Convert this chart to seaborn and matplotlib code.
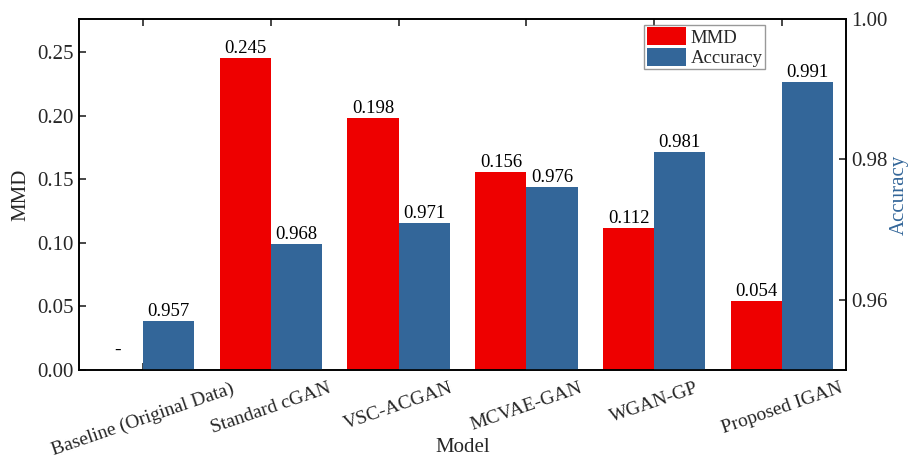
import numpy as np
import pandas as pd
import seaborn as sns
import matplotlib.pyplot as plt
from matplotlib.patches import Patch

models = ["Baseline (Original Data)", "Standard cGAN", "VSC-ACGAN",
          "MCVAE-GAN", "WGAN-GP", "Proposed IGAN"]
mmd = [np.nan, 0.245, 0.198, 0.156, 0.112, 0.054]
accuracy = [0.957, 0.968, 0.971, 0.976, 0.981, 0.991]
mmd_labels = ["-", "0.245", "0.198", "0.156", "0.112", "0.054"]
acc_labels = ["0.957", "0.968", "0.971", "0.976", "0.981", "0.991"]

RED = "#EE0000"
BLUE = "#336699"

sns.set_theme(style="ticks")
plt.rcParams["font.family"] = ["Liberation Serif", "DejaVu Serif"]

df_mmd = pd.DataFrame({"Model": models * 2,
                       "Metric": ["MMD"] * 6 + ["Accuracy"] * 6,
                       "Value": list(mmd) + [np.nan] * 6})
df_acc = pd.DataFrame({"Model": models * 2,
                       "Metric": ["MMD"] * 6 + ["Accuracy"] * 6,
                       "Value": [np.nan] * 6 + list(accuracy)})

fig = plt.figure(figsize=(9.11, 4.55), dpi=100)
ax = fig.add_axes([0.0867, 0.1868, 0.8420, 0.7714])
ax2 = ax.twinx()

palette = {"MMD": RED, "Accuracy": BLUE}
sns.barplot(data=df_mmd, x="Model", y="Value", hue="Metric",
            hue_order=["MMD", "Accuracy"], order=models, palette=palette,
            width=0.8, linewidth=0, saturation=1, errorbar=None,
            legend=False, ax=ax)
sns.barplot(data=df_acc, x="Model", y="Value", hue="Metric",
            hue_order=["MMD", "Accuracy"], order=models, palette=palette,
            width=0.8, linewidth=0, saturation=1, errorbar=None,
            legend=False, ax=ax2)

ax.set_xlim(-0.5, 5.5)
ax.set_ylim(0, 0.2759)
ax2.set_ylim(0.95, 1.0)
ax.set_yticks([0.0, 0.05, 0.10, 0.15, 0.20, 0.25])
ax.set_yticklabels(["0.00", "0.05", "0.10", "0.15", "0.20", "0.25"])
ax2.set_yticks([0.96, 0.98, 1.00])
ax2.set_yticklabels(["0.96", "0.98", "1.00"])

# value labels
for i in range(len(models)):
    if np.isnan(mmd[i]):
        ax.text(i - 0.2, 0.0085, mmd_labels[i], ha="center", va="bottom",
                fontsize=14, color="black")
    else:
        ax.text(i - 0.2, mmd[i] + 0.0008, mmd_labels[i], ha="center",
                va="bottom", fontsize=13.5, color="black")
    ax2.text(i + 0.2, accuracy[i] + 0.00015, acc_labels[i], ha="center",
             va="bottom", fontsize=13.5, color="black")

ax.set_xticks(range(len(models)))
ax.set_xticklabels(models, rotation=19, ha="center", fontsize=14)
ax.set_xlabel("Model", fontsize=15)
ax.xaxis.set_label_coords(0.5, -0.195)
ax.set_ylabel("MMD", fontsize=15, labelpad=5)
ax2.set_ylabel("Accuracy", fontsize=15, color=BLUE, labelpad=2)

for a in (ax, ax2):
    a.tick_params(axis="y", direction="in", length=5, width=1.2, labelsize=15)
    for s in a.spines.values():
        s.set_linewidth(1.2)
        s.set_color("black")
ax.tick_params(axis="x", direction="in", length=5, width=1.2, top=True,
               bottom=True, pad=7)
ax2.tick_params(axis="x", top=False, bottom=False)

handles = [Patch(facecolor=RED, edgecolor="none", label="MMD"),
           Patch(facecolor=BLUE, edgecolor="none", label="Accuracy")]
leg = ax2.legend(handles=handles, loc="upper left",
                 bbox_to_anchor=(0.737, 0.983), fontsize=13.5, frameon=True,
                 fancybox=False, edgecolor="#808080", handlelength=2.1,
                 handleheight=1.1, handletextpad=0.25, borderpad=0.12,
                 labelspacing=0.05, borderaxespad=0)
leg.get_frame().set_linewidth(1.0)

fig.savefig("out.png", dpi=100)
